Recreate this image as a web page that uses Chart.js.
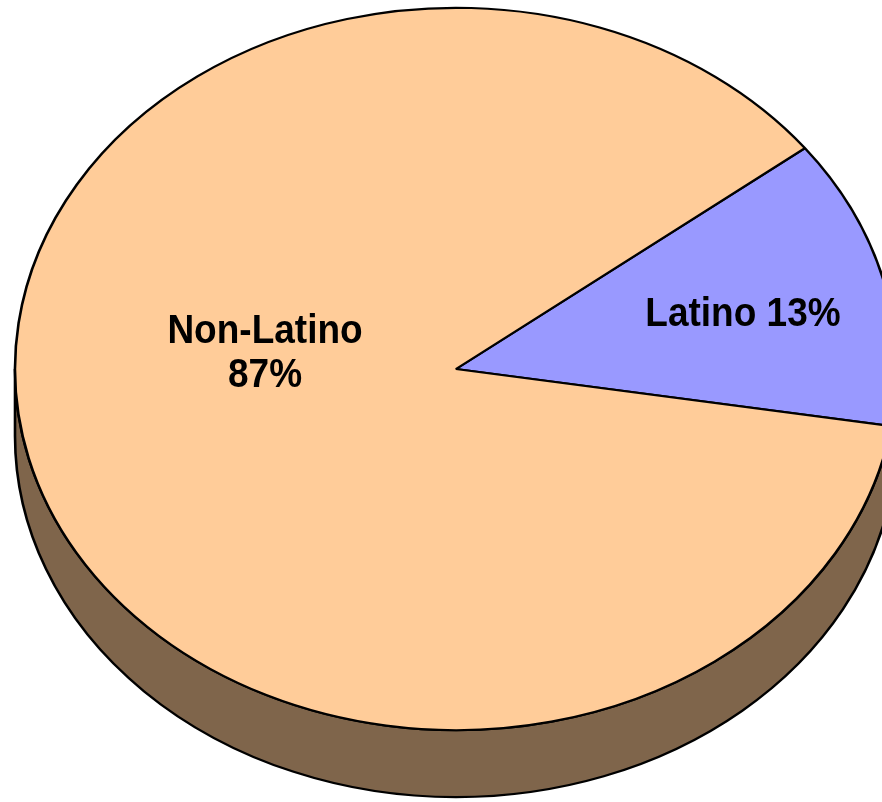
<!DOCTYPE html>
<html>
<head>
<meta charset="utf-8">
<script src="https://cdn.jsdelivr.net/npm/chart.js@4/dist/chart.umd.min.js"></script>
<style>
html, body { margin: 0; padding: 0; background: #fff; overflow: hidden; }
</style>
</head>
<body>
<canvas id="pie" width="882" height="802"></canvas>
<script>
var categories = ['Latino', 'Non-Latino'];
var shares = [13, 87];
var labelLines = [['Latino 13%'], ['Non-Latino', '87%']];
var topColors = ['#9999FF', '#FFCC99'];
var sideColors = ['#4D4D80', '#7F654B'];

var tilt = 0.819;   // ellipse height / width
var depth = 67;     // height of the side wall, px
var labelOffsets = [{dx: 287, dy: -43}, {dx: -191, dy: -26}]; // first baseline, from centre

var pie3d = {
    id: 'pie3d',
    beforeDatasetsDraw: function(chart) {
        var meta = chart.getDatasetMeta(0);
        var cx = meta.data[0].x, cy = meta.data[0].y, r = meta.data[0].outerRadius;
        var ctx = chart.ctx;
        ctx.save();
        ctx.translate(cx, cy);
        ctx.scale(1, tilt);
        ctx.translate(-cx, -cy);
        var d = depth / tilt;
        meta.data.forEach(function(arc, i) {
            for (var k = -1; k <= 1; k++) {
                var s = Math.max(arc.startAngle + 2 * Math.PI * k, 0);
                var e = Math.min(arc.endAngle + 2 * Math.PI * k, Math.PI);
                if (e <= s) continue;
                ctx.beginPath();
                ctx.arc(cx, cy, r, s, e);
                ctx.lineTo(cx + r * Math.cos(e), cy + d + r * Math.sin(e));
                ctx.arc(cx, cy + d, r, e, s, true);
                ctx.closePath();
                ctx.fillStyle = sideColors[i];
                ctx.fill();
                ctx.lineWidth = 2.6;
                ctx.strokeStyle = '#000';
                ctx.stroke();
            }
        });
    },
    afterDatasetsDraw: function(chart) {
        var ctx = chart.ctx;
        ctx.restore();
        var meta = chart.getDatasetMeta(0);
        var cx = meta.data[0].x, cy = meta.data[0].y;
        ctx.save();
        ctx.fillStyle = '#000';
        ctx.font = 'bold 37px "Liberation Sans", Arial, sans-serif';
        ctx.textAlign = 'center';
        ctx.textBaseline = 'alphabetic';
        labelLines.forEach(function(lines, i) {
            var x = cx + labelOffsets[i].dx, y = cy + labelOffsets[i].dy;
            lines.forEach(function(line, j) {
                ctx.save();
                ctx.translate(x, y + j * 44);
                ctx.scale(1, 1.1);
                ctx.fillText(line, 0, 0);
                ctx.restore();
            });
        });
        ctx.restore();
    }
};

var ctx = document.getElementById('pie').getContext('2d');
var pieChart = new Chart(ctx, {
    type: 'pie',
    data: {
        labels: categories,
        datasets: [{
            data: shares,
            backgroundColor: topColors,
            borderColor: '#000',
            borderWidth: 2.6,
            clip: false
        }]
    },
    options: {
        responsive: false,
        animation: false,
        rotation: 52.3,
        radius: 441,
        layout: { padding: { left: 30, right: 0, top: 0, bottom: 64 } },
        plugins: {
            legend: { display: false },
            tooltip: { enabled: false }
        }
    },
    plugins: [pie3d]
});
</script>
</body>
</html>
